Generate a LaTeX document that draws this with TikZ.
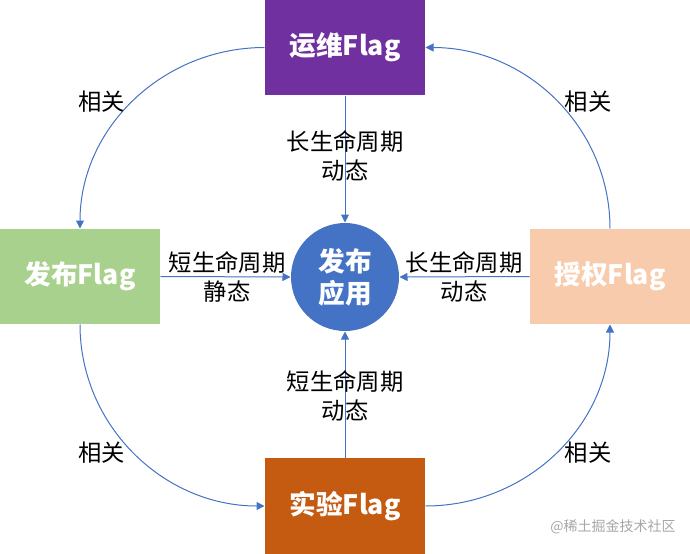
\documentclass[tikz,border=0pt]{standalone}
\usepackage{fontspec}
\setmainfont{Noto Sans CJK SC}
\usetikzlibrary{arrows.meta}

\definecolor{opspurple}{RGB}{112,48,160}
\definecolor{relgreen}{RGB}{169,209,142}
\definecolor{authpeach}{RGB}{248,203,173}
\definecolor{exporange}{RGB}{197,90,17}
\definecolor{appblue}{RGB}{68,114,196}

\tikzset{every picture/.style={line width=0.75pt}}
\tikzset{
  flagbox/.style={rectangle,minimum width=120pt,minimum height=71.25pt,inner sep=0pt,text=white,font=\fontsize{20}{24}\selectfont\bfseries},
  link/.style={color=appblue,line width=0.75pt,-{Triangle[length=6pt,width=6pt]}},
  tag/.style={align=center,font=\fontsize{17.5}{21.5}\selectfont,inner sep=0pt}
}

\begin{document}
\begin{tikzpicture}[x=0.75pt,y=0.75pt,yscale=-1,xscale=1]
\useasboundingbox (0,0) rectangle (690,554);

%Shape: Rectangle
\node [flagbox,fill=opspurple] (ops) at (345,47.5) {运维Flag};
%Shape: Rectangle
\node [flagbox,fill=relgreen] (rel) at (80,276.5) {发布Flag};
%Shape: Rectangle
\node [flagbox,fill=authpeach] (auth) at (610,276.5) {授权Flag};
%Shape: Rectangle
\node [flagbox,fill=exporange,minimum height=72pt] (exp) at (345,506) {实验Flag};
%Shape: Circle
\node [circle,fill=appblue,minimum size=81pt,inner sep=0pt,align=center,text=white,font=\fontsize{20}{24}\selectfont\bfseries] (app) at (345,277) {发布\\应用};

% straight links
\draw [link] (ops.south) -- (app.north);
\draw [link] (rel.east) -- (app.west);
\draw [link] (auth.west) -- (app.east);
\draw [link] (exp.north) -- (app.south);

% curved links (y axis is flipped, so -90 points up)
\draw [link] (ops.west) to[out=180,in=-90] (rel.north);
\draw [link] (rel.south) to[out=90,in=180] (exp.west);
\draw [link] (exp.east) to[out=0,in=90] (auth.south);
\draw [link] (auth.north) to[out=-90,in=0] (ops.east);

% Text Node
\node [tag] (t1) at (345,156) {长生命周期\\动态};
% Text Node
\node [tag] (t2) at (227,277) {短生命周期\\静态};
% Text Node
\node [tag] (t3) at (464,277) {长生命周期\\动态};
% Text Node
\node [tag] (t4) at (345,396) {短生命周期\\动态};
% Text Node
\node [tag] (r1) at (102,102) {相关};
% Text Node
\node [tag] (r2) at (588,102) {相关};
% Text Node
\node [tag] (r3) at (102,453) {相关};
% Text Node
\node [tag] (r4) at (588,453) {相关};
% Text Node
\node [text=black!35,font=\fontsize{10.5}{12}\selectfont,inner sep=0pt] (mark) at (613,527) {@稀土掘金技术社区};

\end{tikzpicture}
\end{document}
